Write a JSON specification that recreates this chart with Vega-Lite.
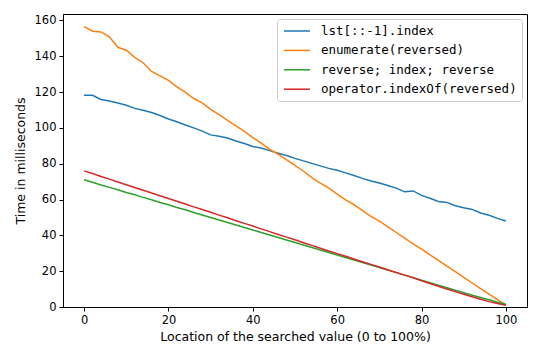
{
  "$schema": "https://vega.github.io/schema/vega-lite/v6.json",
  "width": 464,
  "height": 293,
  "autosize": {"type": "none"},
  "padding": {"left": 63, "top": 14, "right": 13, "bottom": 53},
  "background": "white",
  "config": {
    "font": "DejaVu Sans",
    "view": {"stroke": "black", "strokeWidth": 1},
    "axis": {
      "grid": false,
      "domainColor": "black",
      "tickColor": "black",
      "tickSize": 4,
      "labelColor": "black",
      "titleColor": "black",
      "labelFontSize": 11.5,
      "titleFontSize": 12.5,
      "titleFontWeight": "normal",
      "labelPadding": 3
    }
  },
  "data": {
    "values": [
      {"s":"lst[::-1].index","x":0,"y":118.3},{"s":"lst[::-1].index","x":2,"y":118.2},{"s":"lst[::-1].index","x":4,"y":115.9},{"s":"lst[::-1].index","x":6,"y":115.0},{"s":"lst[::-1].index","x":8,"y":113.9},{"s":"lst[::-1].index","x":10,"y":112.6},{"s":"lst[::-1].index","x":12,"y":110.9},{"s":"lst[::-1].index","x":14,"y":109.8},{"s":"lst[::-1].index","x":16,"y":108.6},{"s":"lst[::-1].index","x":18,"y":106.9},{"s":"lst[::-1].index","x":20,"y":105.0},{"s":"lst[::-1].index","x":22,"y":103.4},{"s":"lst[::-1].index","x":24,"y":101.6},{"s":"lst[::-1].index","x":26,"y":100.0},{"s":"lst[::-1].index","x":28,"y":98.2},{"s":"lst[::-1].index","x":30,"y":96.1},{"s":"lst[::-1].index","x":32,"y":95.4},{"s":"lst[::-1].index","x":34,"y":94.4},{"s":"lst[::-1].index","x":36,"y":92.7},{"s":"lst[::-1].index","x":38,"y":91.3},{"s":"lst[::-1].index","x":40,"y":89.6},{"s":"lst[::-1].index","x":42,"y":88.8},{"s":"lst[::-1].index","x":44,"y":87.3},{"s":"lst[::-1].index","x":46,"y":85.9},{"s":"lst[::-1].index","x":48,"y":84.6},{"s":"lst[::-1].index","x":50,"y":83.0},{"s":"lst[::-1].index","x":52,"y":81.6},{"s":"lst[::-1].index","x":54,"y":80.2},{"s":"lst[::-1].index","x":56,"y":78.8},{"s":"lst[::-1].index","x":58,"y":77.4},{"s":"lst[::-1].index","x":60,"y":76.3},{"s":"lst[::-1].index","x":62,"y":74.9},{"s":"lst[::-1].index","x":64,"y":73.4},{"s":"lst[::-1].index","x":66,"y":71.8},{"s":"lst[::-1].index","x":68,"y":70.4},{"s":"lst[::-1].index","x":70,"y":69.2},{"s":"lst[::-1].index","x":72,"y":67.8},{"s":"lst[::-1].index","x":74,"y":66.4},{"s":"lst[::-1].index","x":76,"y":64.3},{"s":"lst[::-1].index","x":78,"y":64.8},{"s":"lst[::-1].index","x":80,"y":62.3},{"s":"lst[::-1].index","x":82,"y":60.7},{"s":"lst[::-1].index","x":84,"y":58.9},{"s":"lst[::-1].index","x":86,"y":58.4},{"s":"lst[::-1].index","x":88,"y":56.5},{"s":"lst[::-1].index","x":90,"y":55.4},{"s":"lst[::-1].index","x":92,"y":54.5},{"s":"lst[::-1].index","x":94,"y":52.5},{"s":"lst[::-1].index","x":96,"y":51.2},{"s":"lst[::-1].index","x":98,"y":49.5},{"s":"lst[::-1].index","x":100,"y":48.0},
      {"s":"enumerate(reversed)","x":0,"y":156.6},{"s":"enumerate(reversed)","x":2,"y":154.0},{"s":"enumerate(reversed)","x":4,"y":153.6},{"s":"enumerate(reversed)","x":6,"y":150.9},{"s":"enumerate(reversed)","x":8,"y":145.0},{"s":"enumerate(reversed)","x":10,"y":143.4},{"s":"enumerate(reversed)","x":12,"y":139.4},{"s":"enumerate(reversed)","x":14,"y":136.4},{"s":"enumerate(reversed)","x":16,"y":131.5},{"s":"enumerate(reversed)","x":18,"y":129.1},{"s":"enumerate(reversed)","x":20,"y":126.5},{"s":"enumerate(reversed)","x":22,"y":122.9},{"s":"enumerate(reversed)","x":24,"y":120.0},{"s":"enumerate(reversed)","x":26,"y":116.4},{"s":"enumerate(reversed)","x":28,"y":114.0},{"s":"enumerate(reversed)","x":30,"y":110.4},{"s":"enumerate(reversed)","x":32,"y":107.4},{"s":"enumerate(reversed)","x":34,"y":104.2},{"s":"enumerate(reversed)","x":36,"y":101.1},{"s":"enumerate(reversed)","x":38,"y":98.0},{"s":"enumerate(reversed)","x":40,"y":94.6},{"s":"enumerate(reversed)","x":42,"y":91.5},{"s":"enumerate(reversed)","x":44,"y":88.0},{"s":"enumerate(reversed)","x":46,"y":85.3},{"s":"enumerate(reversed)","x":48,"y":82.2},{"s":"enumerate(reversed)","x":50,"y":79.1},{"s":"enumerate(reversed)","x":52,"y":75.8},{"s":"enumerate(reversed)","x":54,"y":72.3},{"s":"enumerate(reversed)","x":56,"y":69.2},{"s":"enumerate(reversed)","x":58,"y":66.5},{"s":"enumerate(reversed)","x":60,"y":63.0},{"s":"enumerate(reversed)","x":62,"y":59.8},{"s":"enumerate(reversed)","x":64,"y":57.1},{"s":"enumerate(reversed)","x":66,"y":53.8},{"s":"enumerate(reversed)","x":68,"y":50.6},{"s":"enumerate(reversed)","x":70,"y":48.0},{"s":"enumerate(reversed)","x":72,"y":44.8},{"s":"enumerate(reversed)","x":74,"y":41.6},{"s":"enumerate(reversed)","x":76,"y":38.5},{"s":"enumerate(reversed)","x":78,"y":35.3},{"s":"enumerate(reversed)","x":80,"y":32.3},{"s":"enumerate(reversed)","x":82,"y":29.1},{"s":"enumerate(reversed)","x":84,"y":26.0},{"s":"enumerate(reversed)","x":86,"y":22.8},{"s":"enumerate(reversed)","x":88,"y":19.7},{"s":"enumerate(reversed)","x":90,"y":16.6},{"s":"enumerate(reversed)","x":92,"y":13.4},{"s":"enumerate(reversed)","x":94,"y":10.3},{"s":"enumerate(reversed)","x":96,"y":7.2},{"s":"enumerate(reversed)","x":98,"y":4.1},{"s":"enumerate(reversed)","x":100,"y":1.0},
      {"s":"reverse; index; reverse","x":0,"y":71.0},{"s":"reverse; index; reverse","x":2,"y":69.7},{"s":"reverse; index; reverse","x":4,"y":68.1},{"s":"reverse; index; reverse","x":6,"y":66.8},{"s":"reverse; index; reverse","x":8,"y":65.5},{"s":"reverse; index; reverse","x":10,"y":63.9},{"s":"reverse; index; reverse","x":12,"y":62.7},{"s":"reverse; index; reverse","x":14,"y":61.2},{"s":"reverse; index; reverse","x":16,"y":59.9},{"s":"reverse; index; reverse","x":18,"y":58.4},{"s":"reverse; index; reverse","x":20,"y":57.1},{"s":"reverse; index; reverse","x":22,"y":55.6},{"s":"reverse; index; reverse","x":24,"y":54.3},{"s":"reverse; index; reverse","x":26,"y":52.8},{"s":"reverse; index; reverse","x":28,"y":51.4},{"s":"reverse; index; reverse","x":30,"y":50.0},{"s":"reverse; index; reverse","x":32,"y":48.6},{"s":"reverse; index; reverse","x":34,"y":47.2},{"s":"reverse; index; reverse","x":36,"y":45.8},{"s":"reverse; index; reverse","x":38,"y":44.4},{"s":"reverse; index; reverse","x":40,"y":43.0},{"s":"reverse; index; reverse","x":42,"y":41.6},{"s":"reverse; index; reverse","x":44,"y":40.2},{"s":"reverse; index; reverse","x":46,"y":38.8},{"s":"reverse; index; reverse","x":48,"y":37.4},{"s":"reverse; index; reverse","x":50,"y":36.0},{"s":"reverse; index; reverse","x":52,"y":34.6},{"s":"reverse; index; reverse","x":54,"y":33.2},{"s":"reverse; index; reverse","x":56,"y":31.8},{"s":"reverse; index; reverse","x":58,"y":30.4},{"s":"reverse; index; reverse","x":60,"y":29.0},{"s":"reverse; index; reverse","x":62,"y":27.6},{"s":"reverse; index; reverse","x":64,"y":26.2},{"s":"reverse; index; reverse","x":66,"y":24.8},{"s":"reverse; index; reverse","x":68,"y":23.4},{"s":"reverse; index; reverse","x":70,"y":22.0},{"s":"reverse; index; reverse","x":72,"y":20.6},{"s":"reverse; index; reverse","x":74,"y":19.2},{"s":"reverse; index; reverse","x":76,"y":17.8},{"s":"reverse; index; reverse","x":78,"y":16.4},{"s":"reverse; index; reverse","x":80,"y":15.0},{"s":"reverse; index; reverse","x":82,"y":13.6},{"s":"reverse; index; reverse","x":84,"y":12.2},{"s":"reverse; index; reverse","x":86,"y":10.8},{"s":"reverse; index; reverse","x":88,"y":9.4},{"s":"reverse; index; reverse","x":90,"y":8.0},{"s":"reverse; index; reverse","x":92,"y":6.6},{"s":"reverse; index; reverse","x":94,"y":5.3},{"s":"reverse; index; reverse","x":96,"y":4.0},{"s":"reverse; index; reverse","x":98,"y":2.7},{"s":"reverse; index; reverse","x":100,"y":1.5},
      {"s":"operator.indexOf(reversed)","x":0,"y":76.0},{"s":"operator.indexOf(reversed)","x":2,"y":74.5},{"s":"operator.indexOf(reversed)","x":4,"y":72.9},{"s":"operator.indexOf(reversed)","x":6,"y":71.4},{"s":"operator.indexOf(reversed)","x":8,"y":69.8},{"s":"operator.indexOf(reversed)","x":10,"y":68.3},{"s":"operator.indexOf(reversed)","x":12,"y":66.7},{"s":"operator.indexOf(reversed)","x":14,"y":65.2},{"s":"operator.indexOf(reversed)","x":16,"y":63.7},{"s":"operator.indexOf(reversed)","x":18,"y":62.1},{"s":"operator.indexOf(reversed)","x":20,"y":60.6},{"s":"operator.indexOf(reversed)","x":22,"y":59.0},{"s":"operator.indexOf(reversed)","x":24,"y":57.5},{"s":"operator.indexOf(reversed)","x":26,"y":55.9},{"s":"operator.indexOf(reversed)","x":28,"y":54.4},{"s":"operator.indexOf(reversed)","x":30,"y":52.9},{"s":"operator.indexOf(reversed)","x":32,"y":51.3},{"s":"operator.indexOf(reversed)","x":34,"y":49.8},{"s":"operator.indexOf(reversed)","x":36,"y":48.2},{"s":"operator.indexOf(reversed)","x":38,"y":46.7},{"s":"operator.indexOf(reversed)","x":40,"y":45.2},{"s":"operator.indexOf(reversed)","x":42,"y":43.6},{"s":"operator.indexOf(reversed)","x":44,"y":42.1},{"s":"operator.indexOf(reversed)","x":46,"y":40.5},{"s":"operator.indexOf(reversed)","x":48,"y":39.0},{"s":"operator.indexOf(reversed)","x":50,"y":37.5},{"s":"operator.indexOf(reversed)","x":52,"y":35.9},{"s":"operator.indexOf(reversed)","x":54,"y":34.4},{"s":"operator.indexOf(reversed)","x":56,"y":32.8},{"s":"operator.indexOf(reversed)","x":58,"y":31.3},{"s":"operator.indexOf(reversed)","x":60,"y":29.8},{"s":"operator.indexOf(reversed)","x":62,"y":28.3},{"s":"operator.indexOf(reversed)","x":64,"y":26.8},{"s":"operator.indexOf(reversed)","x":66,"y":25.3},{"s":"operator.indexOf(reversed)","x":68,"y":23.8},{"s":"operator.indexOf(reversed)","x":70,"y":22.3},{"s":"operator.indexOf(reversed)","x":72,"y":20.8},{"s":"operator.indexOf(reversed)","x":74,"y":19.3},{"s":"operator.indexOf(reversed)","x":76,"y":17.8},{"s":"operator.indexOf(reversed)","x":78,"y":16.3},{"s":"operator.indexOf(reversed)","x":80,"y":14.7},{"s":"operator.indexOf(reversed)","x":82,"y":13.1},{"s":"operator.indexOf(reversed)","x":84,"y":11.6},{"s":"operator.indexOf(reversed)","x":86,"y":10.1},{"s":"operator.indexOf(reversed)","x":88,"y":8.6},{"s":"operator.indexOf(reversed)","x":90,"y":7.1},{"s":"operator.indexOf(reversed)","x":92,"y":5.7},{"s":"operator.indexOf(reversed)","x":94,"y":4.3},{"s":"operator.indexOf(reversed)","x":96,"y":3.0},{"s":"operator.indexOf(reversed)","x":98,"y":1.9},{"s":"operator.indexOf(reversed)","x":100,"y":1.0}
    ]
  },
  "mark": {"type": "line", "strokeWidth": 1.5, "clip": true},
  "encoding": {
    "x": {
      "field": "x", "type": "quantitative",
      "scale": {"domain": [-5, 105], "nice": false, "zero": false},
      "axis": {"values": [0, 20, 40, 60, 80, 100], "title": "Location of the searched value (0 to 100%)", "titlePadding": 5}
    },
    "y": {
      "field": "y", "type": "quantitative",
      "scale": {"domain": [0, 163.6], "nice": false},
      "axis": {"values": [0, 20, 40, 60, 80, 100, 120, 140, 160], "title": "Time in milliseconds", "titlePadding": 7}
    },
    "color": {
      "field": "s", "type": "nominal",
      "scale": {
        "domain": ["lst[::-1].index", "enumerate(reversed)", "reverse; index; reverse", "operator.indexOf(reversed)"],
        "range": ["#1f77b4", "#ff7f0e", "#2ca02c", "#d62728"]
      },
      "legend": {
        "title": null,
        "orient": "none",
        "legendX": 214,
        "legendY": 5,
        "symbolType": "M-0.84,0H3.5",
        "symbolSize": 144,
        "symbolStrokeWidth": 1.5,
        "labelFont": "DejaVu Sans Mono",
        "labelFontSize": 12.5,
        "labelColor": "black",
        "labelLimit": 400,
        "labelOffset": 25,
        "rowPadding": 5.4,
        "padding": 5,
        "strokeColor": "#cccccc",
        "fillColor": "white",
        "cornerRadius": 3
      }
    }
  }
}
